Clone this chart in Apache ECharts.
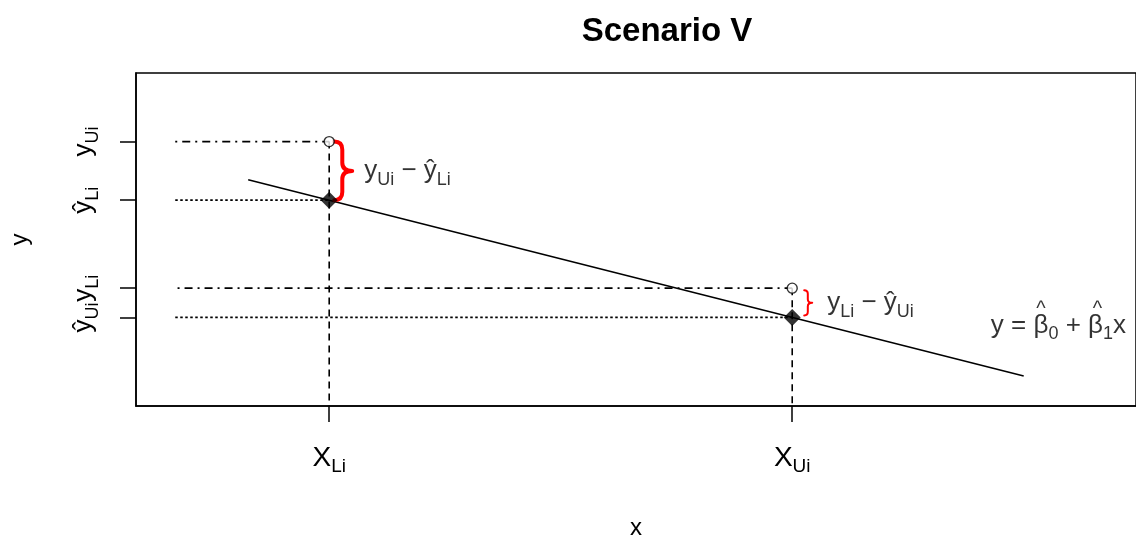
<!DOCTYPE html>
<html><head><meta charset="utf-8">
<script src="https://cdn.jsdelivr.net/npm/echarts@6/dist/echarts.min.js"></script>
<style>html,body{margin:0;padding:0;background:#fff}#chart{width:1136px;height:545px}</style>
</head><body><div id="chart"></div>
<script>
// Interval bounds on x and the observed / fitted responses
const xLower = 2;
const xUpper = 6;
const yUpperObs = 8;   // y_Ui, observed at X_Li
const yLowerObs = 3;   // y_Li, observed at X_Ui
const yHatLower = 6;   // fitted value at X_Li
const yHatUpper = 2;   // fitted value at X_Ui

// Fitted regression line y = b0 + b1 x
const fitLine = [[1.3, 6.7], [8, 0]];

// Where the horizontal guides begin
const guideStartX = [0.67, 0.69];

const xRange = [0.331, 8.97];
const yRange = [-1.02, 10.34];

const xTickValues = [xLower, xUpper];
const yTickValues = [yHatUpper, yLowerObs, yHatLower, yUpperObs];

const xTickLabels = { [xLower]: '{m|X}{s|Li}', [xUpper]: '{m|X}{s|Ui}' };
const yTickLabels = {
  [yUpperObs]: '{m|y}{s|Ui}',
  [yHatLower]: '{m|ŷ}{s|Li}',
  [yLowerObs]: '{m|y}{s|Li}',
  [yHatUpper]: '{m|ŷ}{s|Ui}'
};

const gapLabels = ['{m|y}{s|Ui}{m| − ŷ}{s|Li}', '{m|y}{s|Li}{m| − ŷ}{s|Ui}'];
const equationAt = [8.3, 1.85];

const FONT = '"Liberation Sans", Arial, sans-serif';
const MAIN = 26, SUB = 18;

const richText = (main, sub, lh) => ({
  m: { fontFamily: FONT, fontSize: main, color: '#000', lineHeight: lh || 36, textBorderWidth: 0 },
  s: { fontFamily: FONT, fontSize: sub, color: '#000', lineHeight: sub, verticalAlign: 'bottom', textBorderWidth: 0 }
});

// Text width helper, used to put hats over the betas
const measureCtx = document.createElement('canvas').getContext('2d');
function textWidth(str, size) {
  measureCtx.font = size + 'px ' + FONT;
  return measureCtx.measureText(str).width;
}

// y = b0^ + b1^ x, hats on their own line above the betas
function equationText() {
  const gapA = textWidth('y = ', MAIN);
  const beta = textWidth('β', MAIN);
  const gapB = textWidth('0', SUB) + textWidth(' + ', MAIN);
  const gapC = textWidth('1', SUB) + textWidth('x', MAIN);
  return {
    text: '{ga|}{hat|^}{gb|}{hat|^}{gc|}\n{m|y = β}{s|0}{m| + β}{s|1}{m|x}',
    rich: Object.assign(richText(MAIN, SUB, 35), {
      ga: { width: gapA, height: 8, lineHeight: 8 },
      gb: { width: gapB, height: 8, lineHeight: 8 },
      gc: { width: gapC, height: 8, lineHeight: 8 },
      hat: { width: beta, align: 'center', fontFamily: FONT, fontSize: 20, color: '#000',
             height: 8, lineHeight: 8, padding: [10, 0, 0, 2], textBorderWidth: 0 }
    })
  };
}
const equation = equationText();

// Brace drawing parameters (pixels)
const braceStyles = [
  { offset: 5, width: 18, lineWidth: 4, inset: 0 },
  { offset: 12, width: 8, lineWidth: 2, inset: 2 }
];

function segment(points, type, width) {
  return {
    type: 'line', data: points, symbol: 'none', silent: true, z: 2,
    lineStyle: { color: '#000', width: width, type: type }
  };
}

const chart = echarts.init(document.getElementById('chart'));

const series = [
  // dot-dash guides from the observed values
  segment([[guideStartX[0], yUpperObs], [xLower, yUpperObs]], [2, 5, 8, 5], 1.8),
  segment([[guideStartX[1], yLowerObs], [xUpper, yLowerObs]], [2, 5, 8, 5], 1.8),
  // dotted guides from the fitted values
  segment([[guideStartX[0], yHatLower], [xLower, yHatLower]], [2.5, 2.5], 1.8),
  segment([[guideStartX[0], yHatUpper], [xUpper, yHatUpper]], [2.5, 2.5], 1.8),
  // dashed drops to the x axis
  segment([[xLower, yUpperObs], [xLower, yRange[0]]], [7, 5], 1.6),
  segment([[xUpper, yLowerObs], [xUpper, yRange[0]]], [7, 5], 1.6),
  // regression line
  segment(fitLine, 'solid', 1.5),
  // observed points (open circles)
  {
    type: 'scatter', data: [[xLower, yUpperObs], [xUpper, yLowerObs]],
    symbol: 'circle', symbolSize: 10, z: 5,
    itemStyle: { color: '#fff', borderColor: '#000', borderWidth: 1.4 }
  },
  // fitted points (filled diamonds)
  {
    type: 'scatter', data: [[xLower, yHatLower], [xUpper, yHatUpper]],
    symbol: 'diamond', symbolSize: 17, z: 5,
    itemStyle: { color: '#000' }
  },
  // red braces marking the residual gaps
  {
    type: 'custom', z: 4,
    data: [[xLower, yUpperObs, yHatLower], [xUpper, yLowerObs, yHatUpper]],
    renderItem: function (params, api) {
      const st = braceStyles[params.dataIndex];
      const a = api.coord([api.value(0), api.value(1)]);
      const b = api.coord([api.value(0), api.value(2)]);
      const x0 = a[0] + st.offset, x1 = x0 + st.width * 0.45, x2 = x0 + st.width;
      const top = a[1] + st.inset, bot = b[1] - st.inset, mid = (top + bot) / 2;
      const r = Math.min(st.width * 0.45, (bot - top) / 4);
      const d = 'M' + x0 + ' ' + top +
        ' Q' + x1 + ' ' + top + ' ' + x1 + ' ' + (top + r) +
        ' L' + x1 + ' ' + (mid - r) +
        ' Q' + x1 + ' ' + mid + ' ' + x2 + ' ' + mid +
        ' Q' + x1 + ' ' + mid + ' ' + x1 + ' ' + (mid + r) +
        ' L' + x1 + ' ' + (bot - r) +
        ' Q' + x1 + ' ' + bot + ' ' + x0 + ' ' + bot;
      return {
        type: 'path', shape: { pathData: d },
        style: { fill: 'none', stroke: '#ff0000', lineWidth: st.lineWidth, lineCap: 'round', lineJoin: 'round' }
      };
    }
  },
  // gap annotations next to the braces
  {
    type: 'scatter', symbolSize: 0, z: 6, silent: true,
    data: [
      { value: [xLower, (yUpperObs + yHatLower) / 2], name: gapLabels[0] },
      { value: [xUpper, (yLowerObs + yHatUpper) / 2], name: gapLabels[1] }
    ],
    label: {
      show: true, position: 'right', distance: 35, color: '#000', textBorderWidth: 0,
      formatter: p => p.name, rich: richText(MAIN, SUB)
    }
  },
  // fitted line equation
  {
    type: 'scatter', symbolSize: 0, z: 6, silent: true,
    data: [{ value: equationAt, name: equation.text }],
    label: {
      show: true, position: 'inside', color: '#000', textBorderWidth: 0,
      formatter: p => p.name, rich: equation.rich
    }
  }
];

chart.setOption({
  animation: false,
  backgroundColor: '#fff',
  title: {
    text: 'Scenario V', left: 662, top: 10, textAlign: 'center',
    textStyle: { fontFamily: FONT, fontWeight: 'bold', fontSize: 33, color: '#000' }
  },
  grid: {
    left: 136, top: 73, right: -4, bottom: 137,
    show: true, borderColor: '#000', borderWidth: 1.5, backgroundColor: 'transparent'
  },
  xAxis: {
    type: 'value', min: xRange[0], max: xRange[1],
    name: 'x', nameLocation: 'middle', nameGap: 110,
    nameTextStyle: { fontFamily: FONT, fontSize: 24, color: '#000' },
    axisLine: { show: true, onZero: false, lineStyle: { color: '#000', width: 1.5 } },
    axisTick: { show: true, customValues: xTickValues, length: 16, lineStyle: { color: '#000', width: 1.5 } },
    axisLabel: {
      customValues: xTickValues, margin: 34, color: '#000',
      formatter: v => xTickLabels[v] || '', rich: richText(28, 19)
    },
    splitLine: { show: false }
  },
  yAxis: {
    type: 'value', min: yRange[0], max: yRange[1],
    name: 'y', nameLocation: 'middle', nameGap: 104, nameRotate: 90,
    nameTextStyle: { fontFamily: FONT, fontSize: 24, color: '#000' },
    axisLine: { show: true, onZero: false, lineStyle: { color: '#000', width: 1.5 } },
    axisTick: { show: true, customValues: yTickValues, length: 16, lineStyle: { color: '#000', width: 1.5 } },
    axisLabel: {
      customValues: yTickValues, margin: 34, rotate: 90, color: '#000',
      formatter: v => yTickLabels[v] || '', rich: richText(MAIN, SUB)
    },
    splitLine: { show: false }
  },
  series: series
});
</script></body></html>
